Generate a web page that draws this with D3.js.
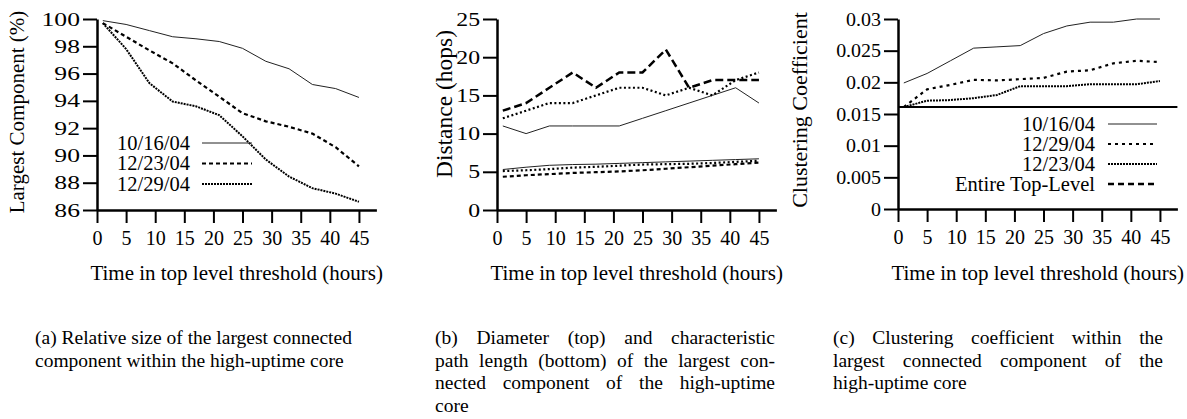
<!DOCTYPE html>
<html>
<head>
<meta charset="utf-8">
<script src="https://cdn.jsdelivr.net/npm/d3@7"></script>
<style>
  body { margin: 0; background: #fff; }
  svg { display: block; }
</style>
</head>
<body>
<svg id="fig" width="1187" height="419"></svg>
<script>
// hours at which every series was sampled
const hours = [1, 5, 9, 13, 17, 21, 25, 29, 33, 37, 41, 45]
const hourTicks = [0, 5, 10, 15, 20, 25, 30, 35, 40, 45]

// (a) largest component (%)
const comp1016 = [99.88, 99.6, 99.15, 98.7, 98.55, 98.35, 97.85, 96.9, 96.35, 95.2, 94.9, 94.25]
const comp1223 = [99.7, 98.7, 97.7, 96.75, 95.5, 94.3, 93.1, 92.5, 92.1, 91.6, 90.6, 89.2]
const comp1229 = [99.7, 97.8, 95.3, 93.95, 93.6, 92.95, 91.4, 89.7, 88.45, 87.6, 87.2, 86.6]
const compTicks = [86, 88, 90, 92, 94, 96, 98, 100]

// (b) diameter (top group) and path length (bottom group), hops
const diamSolid = [11, 10, 11, 11, 11, 11, 12, 13, 14, 15, 16, 14]
const diamDotted = [12, 13, 14, 14, 15, 16, 16, 15, 16, 15, 17, 18]
const diamDashed = [13, 14, 16, 18, 16, 18, 18, 21, 16, 17, 17, 17]
const pathSolid = [5.3, 5.6, 5.85, 5.95, 6.0, 6.1, 6.2, 6.3, 6.4, 6.5, 6.6, 6.7]
const pathDotted = [5.1, 5.2, 5.35, 5.55, 5.65, 5.8, 5.95, 6.0, 6.05, 6.15, 6.3, 6.45]
const pathDashed = [4.35, 4.55, 4.7, 4.85, 4.95, 5.05, 5.2, 5.4, 5.6, 5.8, 6.0, 6.2]
const distTicks = [0, 5, 10, 15, 20, 25]

// (c) clustering coefficient
const cc1016 = [0.0199, 0.0214, 0.0234, 0.0254, 0.0256, 0.0258, 0.0277, 0.0289, 0.0295, 0.0295, 0.0300, 0.0300]
const cc1229 = [0.0161, 0.0189, 0.0196, 0.0204, 0.0203, 0.0205, 0.0207, 0.0217, 0.0219, 0.0230, 0.0234, 0.0232]
const cc1223 = [0.0161, 0.0171, 0.0172, 0.0175, 0.0180, 0.0194, 0.0194, 0.0194, 0.0197, 0.0197, 0.0197, 0.0202]
const ccTopLevel = 0.0161
const ccTicks = [0, 0.005, 0.01, 0.015, 0.02, 0.025, 0.03]

const captions = [
  ['(a) Relative size of the largest connected', 'component within the high-uptime core'],
  ['(b) Diameter (top) and characteristic', 'path length (bottom) of the largest con-', 'nected component of the high-uptime', 'core'],
  ['(c) Clustering coefficient within the', 'largest connected component of the', 'high-uptime core'],
]

// line looks
const looks = {
  solid: { w: 1, dash: null },
  dashed: { w: 2.2, dash: '4,3' },
  fine: { w: 2, dash: '2,1' },
  longDash: { w: 2.5, dash: '8,4' },
  dotted: { w: 2.2, dash: '2,2.5' },
  spaced: { w: 2.2, dash: '3,4' },
  flat: { w: 2, dash: null },
  legendDash: { w: 2.5, dash: '6,4' },
}

const svg = d3.select('#fig')
const serif = '"Liberation Serif", "Times New Roman", serif'

function txt(sel) {
  return sel.append('text').style('font-family', serif)
}

function drawPanel(cfg) {
  const x = d3.scaleLinear().domain([0, 48]).range([cfg.left, cfg.left + 279.4])
  const y = d3.scaleLinear().domain(cfg.yDomain).range([cfg.bottom, cfg.top])
  const g = svg.append('g')

  const line = d3.line().x(d => x(d[0])).y(d => y(d[1]))
  for (const s of cfg.series) {
    const look = looks[s.look]
    const pts = s.points || hours.map((h, i) => [h, s.values[i]])
    g.append('path')
      .attr('d', line(pts))
      .attr('fill', 'none')
      .attr('stroke', s.look === 'solid' ? '#222' : '#000')
      .attr('stroke-width', look.w)
      .attr('stroke-dasharray', look.dash)
  }

  // axes
  const xAxis = g.append('g')
    .attr('transform', `translate(0,${cfg.bottom})`)
    .call(d3.axisBottom(x).tickValues(hourTicks).tickSize(13).tickSizeOuter(0).tickPadding(8))
  const yAxis = g.append('g')
    .attr('transform', `translate(${cfg.left},0)`)
    .call(d3.axisLeft(y).tickValues(cfg.yTicks).tickSize(14).tickSizeOuter(0).tickFormat(cfg.fmt))
  for (const ax of [xAxis, yAxis]) {
    ax.select('.domain').attr('stroke-width', 2.5)
    ax.selectAll('.tick line').attr('stroke-width', 2)
    ax.selectAll('text').style('font-family', serif).attr('font-size', 20).attr('fill', '#000')
  }
  // the y tick numbers are drawn wider than the rest of the text
  yAxis.selectAll('text')
    .attr('font-size', 19)
    .attr('x', -17 / cfg.yStretch)
    .attr('transform', `scale(${cfg.yStretch},1)`)

  // titles
  txt(g)
    .attr('x', (x.range()[0] + x.range()[1]) / 2)
    .attr('y', 280)
    .attr('text-anchor', 'middle')
    .attr('font-size', 21)
    .text('Time in top level threshold (hours)')
  txt(g)
    .attr('transform', `translate(${cfg.yTitleX},${cfg.yTitleY}) rotate(-90)`)
    .attr('text-anchor', 'middle')
    .attr('font-size', cfg.yTitleSize)
    .text(cfg.yTitle)

  // legend
  if (cfg.legend) {
    const L = cfg.legend
    cfg.legend.items.forEach((it, i) => {
      const cy = L.y0 + i * L.step
      txt(g)
        .attr('x', L.textX)
        .attr('y', cy + 6.5)
        .attr('text-anchor', L.anchor)
        .attr('font-size', 20.5)
        .text(it.label)
      const look = looks[it.look]
      g.append('line')
        .attr('x1', L.sx1).attr('x2', L.sx2)
        .attr('y1', cy).attr('y2', cy)
        .attr('stroke', it.look === 'solid' ? '#222' : '#000')
        .attr('stroke-width', look.w)
        .attr('stroke-dasharray', look.dash)
    })
  }
}

drawPanel({
  left: 97, top: 19, bottom: 210,
  yDomain: [86, 100], yTicks: compTicks, fmt: d3.format('d'), yStretch: 1.35,
  yTitle: 'Largest Component (%)', yTitleX: 24, yTitleY: 112, yTitleSize: 21,
  series: [
    { values: comp1016, look: 'solid' },
    { values: comp1223, look: 'dashed' },
    { values: comp1229, look: 'fine' },
  ],
  legend: {
    textX: 117, anchor: 'start', sx1: 202, sx2: 252, y0: 143, step: 20.5,
    items: [
      { label: '10/16/04', look: 'solid' },
      { label: '12/23/04', look: 'dashed' },
      { label: '12/29/04', look: 'fine' },
    ],
  },
})

drawPanel({
  left: 497, top: 19, bottom: 210,
  yDomain: [0, 25], yTicks: distTicks, fmt: d3.format('d'), yStretch: 1.25,
  yTitle: 'Distance (hops)', yTitleX: 452, yTitleY: 104, yTitleSize: 23.5,
  series: [
    { values: diamSolid, look: 'solid' },
    { values: diamDotted, look: 'dotted' },
    { values: diamDashed, look: 'longDash' },
    { values: pathSolid, look: 'solid' },
    { values: pathDotted, look: 'dotted' },
    { values: pathDashed, look: 'dashed' },
  ],
})

drawPanel({
  left: 898, top: 19, bottom: 209,
  yDomain: [0, 0.03], yTicks: ccTicks, fmt: d => d === 0 ? '0' : String(+d.toFixed(3)), yStretch: 1.05,
  yTitle: 'Clustering Coefficient', yTitleX: 807, yTitleY: 110, yTitleSize: 22,
  series: [
    { values: cc1016, look: 'solid' },
    { values: cc1229, look: 'spaced' },
    { values: cc1223, look: 'fine' },
    { points: [[0, ccTopLevel], [48, ccTopLevel]], look: 'flat' },
  ],
  legend: {
    textX: 1095, anchor: 'end', sx1: 1108, sx2: 1157, y0: 124, step: 20,
    items: [
      { label: '10/16/04', look: 'solid' },
      { label: '12/29/04', look: 'spaced' },
      { label: '12/23/04', look: 'fine' },
      { label: 'Entire Top-Level', look: 'legendDash' },
    ],
  },
})

// captions, justified like the paper columns
const capLeft = [35, 435, 833]
const capWidth = [330, 340, 330]
captions.forEach((lines, c) => {
  lines.forEach((ln, i) => {
    const t = txt(svg)
      .attr('x', capLeft[c])
      .attr('y', 344 + i * 22.5)
      .attr('font-size', 19.5)
      .text(ln)
    if (c > 0 && i < lines.length - 1) {
      const natural = t.node().getComputedTextLength()
      const gaps = (ln.match(/ /g) || []).length
      t.attr('word-spacing', (capWidth[c] - natural) / gaps)
    }
  })
})
</script>
</body>
</html>
